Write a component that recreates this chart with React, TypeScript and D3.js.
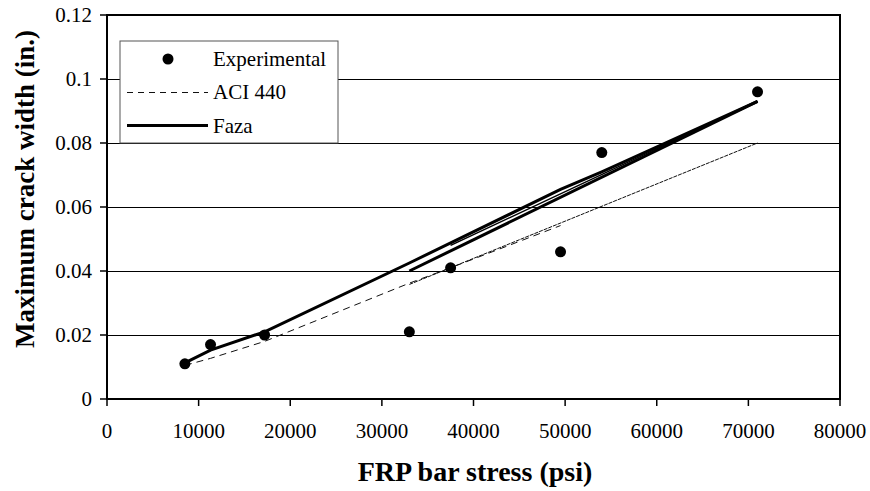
import * as d3 from 'd3'

// experimental points
const stress = [8500, 11300, 17200, 33000, 37500, 49500, 54000, 71000]
const crackWidth = [0.011, 0.017, 0.02, 0.021, 0.041, 0.046, 0.077, 0.096]

// Faza predictions (three groups)
const fazaAX = [8500, 11300, 17200, 33000, 49500, 54000, 71000]
const fazaAY = [0.0113, 0.0153, 0.021, 0.0425, 0.0655, 0.071, 0.093]
const fazaBX = [33000, 71000]
const fazaBY = [0.04, 0.093]
const fazaCX = [37500, 71000]
const fazaCY = [0.048, 0.093]

// ACI 440 predictions (two groups)
const aciAX = [8500, 11300, 17200, 33000, 37500, 49500]
const aciAY = [0.0105, 0.0127, 0.018, 0.0362, 0.041, 0.0542]
const aciBX = [33000, 71000]
const aciBY = [0.0358, 0.08]

const xTicks = [0, 10000, 20000, 30000, 40000, 50000, 60000, 70000, 80000]
const yTicks = [0, 0.02, 0.04, 0.06, 0.08, 0.1, 0.12]
const yTickLabels = ['0', '0.02', '0.04', '0.06', '0.08', '0.1', '0.12']

const W = 870
const H = 491
const left = 107
const right = 840
const top = 15
const bottom = 399
const font = '"Liberation Serif", "Times New Roman", serif'

export default function App() {
  const x = d3.scaleLinear().domain([0, 80000]).range([left, right])
  const y = d3.scaleLinear().domain([0, 0.12]).range([bottom, top])

  const line = d3.line<[number, number]>()
    .x(d => x(d[0]))
    .y(d => y(d[1]))

  const pts = (xs: number[], ys: number[]) => xs.map((v, i) => [v, ys[i]] as [number, number])

  return (
    <svg width={W} height={H} style={{ position: 'absolute', left: 0, top: 0, background: '#fff' }}>
      {/* grid */}
      {yTicks.slice(1, -1).map(t => (
        <line key={t} x1={left} x2={right} y1={y(t) + 0.5} y2={y(t) + 0.5} stroke="#000" strokeWidth={1} />
      ))}

      {/* ACI 440 */}
      <path d={line(pts(aciAX, aciAY)) || ''} fill="none" stroke="#111" strokeWidth={1} strokeDasharray="7,5" />
      <path d={line(pts(aciBX, aciBY)) || ''} fill="none" stroke="#111" strokeWidth={1} strokeDasharray="4,1" />

      {/* Faza */}
      <path d={line(pts(fazaAX, fazaAY)) || ''} fill="none" stroke="#000" strokeWidth={3} />
      <path d={line(pts(fazaBX, fazaBY)) || ''} fill="none" stroke="#000" strokeWidth={3} />
      <path d={line(pts(fazaCX, fazaCY)) || ''} fill="none" stroke="#000" strokeWidth={1.5} />

      {/* experimental */}
      {stress.map((s, i) => (
        <circle key={i} cx={x(s)} cy={y(crackWidth[i])} r={5.5} fill="#000" />
      ))}

      {/* frame */}
      <rect x={left} y={top} width={right - left} height={bottom - top} fill="none" stroke="#000" strokeWidth={2} />

      {/* x axis ticks */}
      {xTicks.map(t => (
        <g key={t}>
          <line x1={x(t)} x2={x(t)} y1={bottom} y2={bottom + 7} stroke="#000" strokeWidth={1.5} />
          <text x={x(t)} y={bottom + 39} textAnchor="middle" fontFamily={font} fontSize={21}>{t}</text>
        </g>
      ))}

      {/* y axis ticks */}
      {yTicks.map((t, i) => (
        <g key={t}>
          <line x1={left - 7} x2={left} y1={y(t)} y2={y(t)} stroke="#000" strokeWidth={1.5} />
          <text x={left - 15} y={y(t) + 7} textAnchor="end" fontFamily={font} fontSize={21}>{yTickLabels[i]}</text>
        </g>
      ))}

      {/* titles */}
      <text x={475} y={481} textAnchor="middle" fontFamily={font} fontWeight="bold" fontSize={28}>
        FRP bar stress (psi)
      </text>
      <text transform="translate(34,189) rotate(-90)" textAnchor="middle" fontFamily={font}
        fontWeight="bold" fontSize={27}>Maximum crack width (in.)</text>

      {/* legend */}
      <g>
        <rect x={120} y={41} width={218} height={102} fill="#fff" stroke="#555" strokeWidth={1} />
        <circle cx={168} cy={59} r={5.5} fill="#000" />
        <line x1={127} x2={208} y1={92.5} y2={92.5} stroke="#111" strokeWidth={1} strokeDasharray="6,5" />
        <line x1={127} x2={208} y1={125.5} y2={125.5} stroke="#000" strokeWidth={3} />
        {['Experimental', 'ACI 440', 'Faza'].map((t, i) => (
          <text key={t} x={213} y={66 + i * 33.4} fontFamily={font} fontSize={21}>{t}</text>
        ))}
      </g>
    </svg>
  )
}
